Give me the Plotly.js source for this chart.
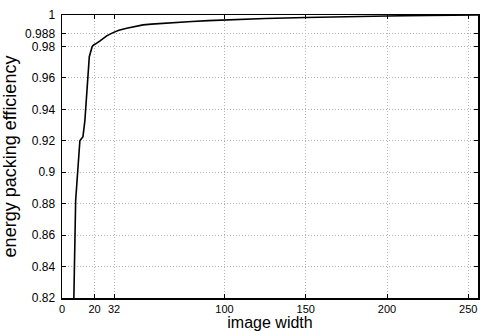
<!DOCTYPE html>
<html>
<head>
<meta charset="utf-8">
<script src="https://cdn.plot.ly/plotly-3.0.1.min.js"></script>
<style>html,body{margin:0;padding:0;background:#fff;}#chart{width:480px;height:331px;}</style>
</head>
<body>
<div id="chart"></div>
<script>
// image width vs energy packing efficiency
var imageWidth = [7.0, 7.3, 8.4, 9.4, 10.6, 11.0, 12.9, 14.1, 16.8, 18.6, 19.5, 20.5, 23.4, 27.5, 31.4, 35, 39.8, 45, 49.9, 55, 60, 70, 80, 90, 100, 125, 150, 175, 200, 225, 256];
var efficiency = [0.79, 0.82, 0.882, 0.895, 0.913, 0.920, 0.9226, 0.933, 0.9735, 0.980, 0.981, 0.9815, 0.9835, 0.9867, 0.9888, 0.9903, 0.9916, 0.9928, 0.9937, 0.9942, 0.9946, 0.9953, 0.9959, 0.9964, 0.9969, 0.9978, 0.9984, 0.9990, 0.9994, 0.9997, 1.0];
var xTickVals = [0, 20, 32, 100, 150, 200, 250];
var yTickVals = [0.82, 0.84, 0.86, 0.88, 0.9, 0.92, 0.94, 0.96, 0.98, 0.988, 1];
var yTickText = ["0.82", "0.84", "0.86", "0.88", "0.9", "0.92", "0.94", "0.96", "0.98", "0.988", "1"];

var font = "Liberation Sans, Arial, Helvetica, sans-serif";
var trace = {
  x: imageWidth, y: efficiency, type: "scatter", mode: "lines",
  line: {color: "#000", width: 1.6}, hoverinfo: "skip"
};
var axisCommon = {
  showline: true, linecolor: "#000", linewidth: 1.5, mirror: "ticks",
  ticks: "inside", ticklen: 4, tickwidth: 1, tickcolor: "#000",
  showgrid: true, gridcolor: "#b4b4b4", griddash: "1px,2px", gridwidth: 1,
  zeroline: false
};
var layout = {
  width: 480, height: 331,
  margin: {l: 62, r: 2, t: 15, b: 33},
  paper_bgcolor: "#fff", plot_bgcolor: "#fff",
  showlegend: false,
  xaxis: Object.assign({}, axisCommon, {
    range: [0, 256], tickmode: "array", tickvals: xTickVals,
    ticktext: xTickVals.map(String), ticklabelstandoff: 0,
    tickfont: {family: font, size: 11, color: "#000"},
    title: {text: "image width", font: {family: font, size: 16, color: "#000"}, standoff: 2}
  }),
  yaxis: Object.assign({}, axisCommon, {
    range: [0.82, 1], tickmode: "array", tickvals: yTickVals, ticktext: yTickText,
    ticklabelstandoff: 3,
    tickfont: {family: font, size: 12, color: "#000"},
    title: {text: "energy packing efficiency", font: {family: font, size: 18, color: "#000"}, standoff: 4}
  })
};
Plotly.newPlot("chart", [trace], layout, {staticPlot: true, displayModeBar: false});
</script>
</body>
</html>
